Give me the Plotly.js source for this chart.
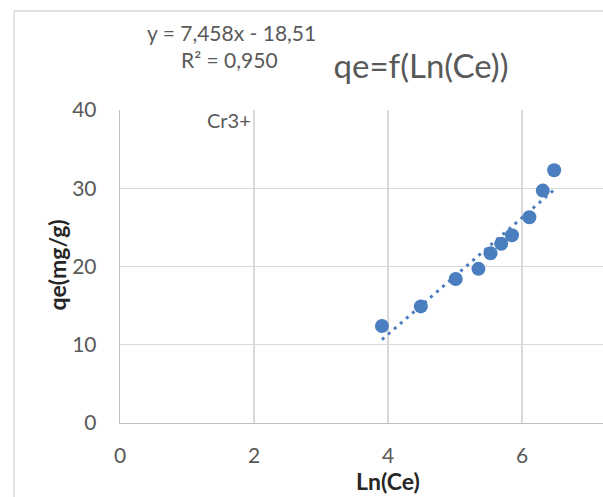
<!DOCTYPE html>
<html>
<head>
<meta charset="utf-8">
<script src="https://cdn.plot.ly/plotly-3.0.1.min.js"></script>
<style>
  html, body { margin: 0; padding: 0; overflow: hidden; background: #ffffff; }
  #chart { width: 603px; height: 497px; }
</style>
</head>
<body>
<div id="chart"></div>
<script>
// Cr3+ adsorption: qe as a function of Ln(Ce)
const lnCe = [3.91, 4.49, 5.01, 5.35, 5.53, 5.69, 5.85, 6.11, 6.31, 6.48];
const qe   = [12.4, 14.9, 18.4, 19.7, 21.7, 22.9, 24.0, 26.3, 29.7, 32.3];

// Linear trendline parameters
const slope = 7.458;
const intercept = -18.51;
const r2 = 0.950;

const xTickVals = [0, 2, 4, 6];
const yTickVals = [0, 10, 20, 30, 40];

// Pixel geometry of the figure
const W = 603, H = 497;
const M = { l: 120, r: 0, t: 110, b: 74 };
const plotW = W - M.l - M.r, plotH = H - M.t - M.b;
const px = x => (x - M.l) / plotW;          // page x -> paper x
const py = y => (H - M.b - y) / plotH;      // page y -> paper y

const blue = '#4A7EBE';
const grey = '#595959';
const dark = '#262626';
const font = 'Lato, "Open Sans", sans-serif';

const fmt = (v, d) => v.toFixed(d).replace('.', ',');
const sign = intercept < 0 ? ' - ' : ' + ';

const xMin = Math.min(...lnCe), xMax = Math.max(...lnCe);
const trendX = [xMin, xMax];
const trendY = trendX.map(x => slope * x + intercept);

const traces = [
  {
    x: trendX, y: trendY, type: 'scatter', mode: 'lines',
    line: { color: blue, width: 3, dash: '3px,5px' },
    hoverinfo: 'skip', showlegend: false
  },
  {
    x: lnCe, y: qe, type: 'scatter', mode: 'markers',
    marker: { color: blue, size: 14, line: { width: 0 } },
    showlegend: false
  }
];

const axisCommon = {
  showgrid: true, gridcolor: '#d9d9d9', gridwidth: 1.3,
  showline: true, linecolor: '#bfbfbf', linewidth: 1.3,
  zeroline: false, ticks: '', fixedrange: true,
  tickfont: { family: font, size: 21, color: grey }
};

const titleFont = { family: font, size: 23, color: dark, weight: 'bold' };

const layout = {
  width: W, height: H, margin: M,
  paper_bgcolor: '#ffffff', plot_bgcolor: '#ffffff',
  showlegend: false,
  title: {
    text: 'qe=f(Ln(Ce))',
    x: 421 / W, y: 1 - 66 / H, xanchor: 'center', yanchor: 'middle',
    xref: 'container', yref: 'container',
    font: { family: font, size: 33, color: grey }
  },
  xaxis: Object.assign({}, axisCommon, {
    range: [0, plotW / 67], tickvals: xTickVals,
    ticklabelstandoff: 13
  }),
  yaxis: Object.assign({}, axisCommon, {
    range: [0, 40], tickvals: yTickVals,
    ticklabelstandoff: 18
  }),
  annotations: [
    // axis titles
    {
      xref: 'paper', yref: 'paper', x: px(388), y: py(481),
      xanchor: 'center', yanchor: 'middle', showarrow: false,
      text: 'Ln(Ce)', font: titleFont
    },
    {
      xref: 'paper', yref: 'paper', x: px(56), y: py(265.5),
      xanchor: 'center', yanchor: 'middle', showarrow: false,
      textangle: -90, text: 'qe(mg/g)', font: titleFont
    },
    // trendline equation
    {
      xref: 'paper', yref: 'paper', x: px(231), y: py(32),
      xanchor: 'center', yanchor: 'middle', showarrow: false,
      text: 'y = ' + fmt(slope, 3) + 'x' + sign + fmt(Math.abs(intercept), 2),
      font: { family: font, size: 21, color: grey }
    },
    {
      xref: 'paper', yref: 'paper', x: px(229.5), y: py(60),
      xanchor: 'center', yanchor: 'middle', showarrow: false,
      text: 'R² = ' + fmt(r2, 3),
      font: { family: font, size: 21, color: grey }
    },
    {
      xref: 'x', yref: 'y', x: 1.98, y: 38.7,
      xanchor: 'right', yanchor: 'middle', showarrow: false,
      text: 'Cr3+',
      font: { family: font, size: 20, color: grey }
    }
  ],
  shapes: [
    // chart frame (top and left edges)
    { type: 'line', xref: 'paper', yref: 'paper', layer: 'below',
      x0: px(14), x1: px(W + 10), y0: py(11), y1: py(11),
      line: { color: '#d9d9d9', width: 1.5 } },
    { type: 'line', xref: 'paper', yref: 'paper', layer: 'below',
      x0: px(14), x1: px(14), y0: py(11), y1: py(H + 10),
      line: { color: '#d9d9d9', width: 1.5 } }
  ]
};

Plotly.newPlot('chart', traces, layout, { displayModeBar: false, staticPlot: true });
</script>
</body>
</html>
